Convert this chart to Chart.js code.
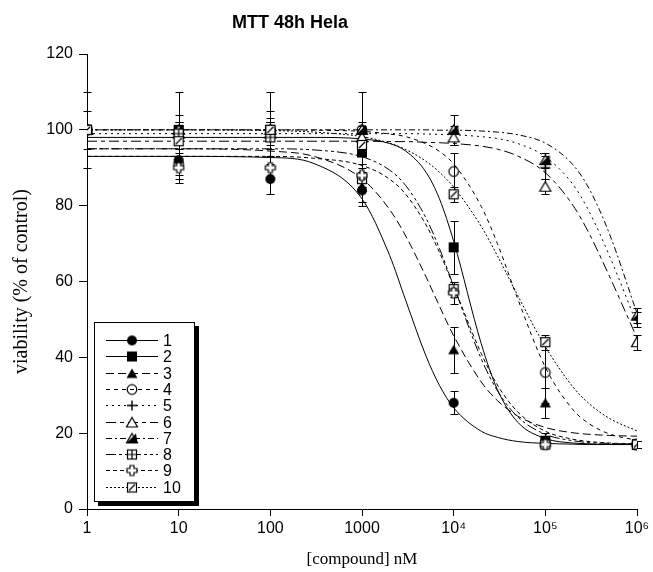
<!DOCTYPE html>
<html>
<head>
<meta charset="utf-8">
<script src="https://cdn.jsdelivr.net/npm/chart.js@4/dist/chart.umd.min.js"></script>
<style>
body{margin:0;background:#fff;}
#wrap{position:relative;width:653px;height:572px;}
#title{position:absolute;left:0;top:12px;width:580px;text-align:center;font:bold 18px "Liberation Sans",Arial,sans-serif;color:#000;line-height:20px;}
</style>
</head>
<body>
<div id="wrap">
<canvas id="myChart" width="653" height="572"></canvas>
<div id="title">MTT 48h Hela</div>
</div>
<script>
'use strict';
// doses of the measured points and tick labels
let doses=[1,10,100,1000,1e4,1e5,1e6];
let xTicks=[1,10,100,1000,1e4,1e5,1e6];
let xTickLabels=['1','10','100','1000','10⁴','10⁵','10⁶'];
let seriesNames=['1','2','3','4','5','6','7','8','9','10'];

// measured viability (% of control)
let v1=[100,92,87,84,28,17,17];
let v2=[100,100,100,94,69,18,17];
let v3=[100,100,100,85,42,28,17];
let v4=[100,91,100,100,89,36,17];
let v5=[100,100,100,99,99,90,50];
let v6=[100,99,99,98,98,85,44];
let v7=[100,100,100,100,100,92,51];
let v8=[100,99,98,87,58,17,17];
let v9=[100,90,90,88,57,17,17];
let v10=[100,97,100,96,83,44,17];

// error (+/-)
let e1=[0,6,4,4,3,1,1];
let e2=[10,10,10,3,7,2,1];
let e3=[5,4,5,4,6,4,1];
let e4=[0,3,3,10,5,8,1];
let e5=[0,2,2,2,2,3,2];
let e6=[0,2,2,2,2,2,2];
let e7=[0,2,2,2,4,2,2];
let e8=[0,2,2,2,2,1,1];
let e9=[0,3,3,3,3,1,1];
let e10=[0,2,2,2,2,2,1];

// fitted curves
let fitDoses=[1,10,100,300,1000,2000,3000,5000,7000,1e4,2e4,3e4,5e4,1e5,2e5,3e5,5e5,1e6];
let f1=[93,93,92.7,91.1,81.8,66.9,55,40.3,32.6,26.7,20.5,18.9,17.8,17.3,17.1,17,17,17];
let f2=[98,98,98,98,97.6,96.4,94.4,88.8,81.8,70.6,43.6,31.5,22.9,18.6,17.4,17.2,17,17];
let f3=[95,95,94.4,93,87.1,79,72,61.2,53.5,45.7,33.5,28.6,24.5,21.5,20.1,19.7,19.4,19.2];
let f4=[100,100,100,99.9,99.6,98.9,98.2,96.3,94.3,91,79.8,70,55.4,37.4,26.2,22.5,19.8,18.1];
let f5=[99,99,99,99,99,99,99,98.9,98.8,98.7,98.2,97.7,96.4,92.9,85.6,78.5,66.8,48.7];
let f6=[97,97,97,97,97,96.9,96.9,96.7,96.6,96.4,95.7,94.9,93.1,88.7,80.1,72.7,61.4,45.1];
let f7=[100,100,100,100,100,100,100,100,99.9,99.9,99.7,99.4,98.7,96.5,90.8,84.5,72.6,51.6];
let f8=[95,95,95,94.7,92.9,89.4,85.3,76.7,68.7,58.8,39.6,31.2,24.3,19.7,18,17.5,17.3,17.1];
let f9=[93,93,93,92.5,90.6,87,83,74.9,67.7,58.7,41,32.7,25.6,20.5,18.4,17.8,17.4,17.2];
let f10=[100,100,99.8,99.4,98.2,96.5,94.8,91.7,88.8,84.9,74.5,66.8,56.3,42.8,32.2,27.8,23.9,20.6];

let values=[v1,v2,v3,v4,v5,v6,v7,v8,v9,v10];
let errors=[e1,e2,e3,e4,e5,e6,e7,e8,e9,e10];
let fits=[f1,f2,f3,f4,f5,f6,f7,f8,f9,f10];

let dashes=[[],[],[8,4],[4,4],[2,4],[10,4,4,4],[6,3,2,3],[10,3,3,3,3,3],[4,3],[2,2]];
let markerKinds=['circle','square','triangle','ocircle','plus','otriangle','halftri','sqcross','fatplus','sqslash'];

function makeMarker(kind){
  let c=document.createElement('canvas');
  c.width=14;c.height=14;
  let g=c.getContext('2d');
  g.translate(7,7);
  g.strokeStyle='#000';g.fillStyle='#000';g.lineWidth=1.2;
  if(kind==='circle'){
    g.beginPath();g.arc(0,0,5,0,Math.PI*2);g.fill();
  }else if(kind==='square'){
    g.fillRect(-5,-5,10,10);
  }else if(kind==='triangle'){
    g.beginPath();g.moveTo(0,-5);g.lineTo(5.5,4.5);g.lineTo(-5.5,4.5);g.closePath();g.fill();
  }else if(kind==='ocircle'){
    g.beginPath();g.arc(0,0,4.8,0,Math.PI*2);g.stroke();
  }else if(kind==='plus'){
    g.lineWidth=1.4;
    g.beginPath();g.moveTo(-5,0);g.lineTo(5,0);g.moveTo(0,-5);g.lineTo(0,5);g.stroke();
  }else if(kind==='otriangle'){
    g.beginPath();g.moveTo(0,-5);g.lineTo(5.5,4.5);g.lineTo(-5.5,4.5);g.closePath();
    g.fillStyle='#fff';g.fill();g.stroke();
  }else if(kind==='halftri'){
    g.beginPath();g.moveTo(0,-5);g.lineTo(5.5,4.5);g.lineTo(-5.5,4.5);g.closePath();
    g.fillStyle='#fff';g.fill();g.stroke();
    g.fillStyle='#000';
    g.beginPath();g.moveTo(4,-5);g.lineTo(5.5,4.5);g.lineTo(-5.5,4.5);g.closePath();g.fill();
  }else if(kind==='sqcross'){
    g.fillStyle='#fff';g.fillRect(-4.5,-4.5,9,9);
    g.strokeRect(-4.5,-4.5,9,9);
    g.beginPath();g.moveTo(-4.5,0);g.lineTo(4.5,0);g.moveTo(0,-4.5);g.lineTo(0,4.5);g.stroke();
  }else if(kind==='fatplus'){
    g.beginPath();
    g.moveTo(-2,-5);g.lineTo(2,-5);g.lineTo(2,-2);g.lineTo(5,-2);g.lineTo(5,2);g.lineTo(2,2);
    g.lineTo(2,5);g.lineTo(-2,5);g.lineTo(-2,2);g.lineTo(-5,2);g.lineTo(-5,-2);g.lineTo(-2,-2);g.closePath();
    g.fillStyle='#fff';g.fill();g.stroke();
  }else if(kind==='sqslash'){
    g.fillStyle='#fff';g.fillRect(-4.5,-4.5,9,9);
    g.strokeRect(-4.5,-4.5,9,9);
    g.beginPath();g.moveTo(-3,3);g.lineTo(3,-3);g.stroke();
  }
  return c;
}
let markers=markerKinds.map(makeMarker);

let datasets=[];
for(let i=0;i<seriesNames.length;i++){
  datasets.push({
    label:'fit '+seriesNames[i],
    data:fitDoses.map((x,j)=>({x:x,y:fits[i][j]})),
    showLine:true,pointRadius:0,borderColor:'#000',borderWidth:1,
    borderDash:dashes[i],cubicInterpolationMode:'monotone',fill:false,order:3
  });
  // later series drawn on top (higher order = drawn first)
  datasets.push({
    label:seriesNames[i],
    data:doses.map((x,j)=>({x:x,y:values[i][j]})),
    showLine:false,pointStyle:markers[i],pointRadius:5,order:2-i*0.1,
    errors:errors[i]
  });
}

let errorBars={
  id:'errorBars',
  beforeDatasetsDraw(chart){
    let ctx=chart.ctx,xs=chart.scales.x,ys=chart.scales.y;
    ctx.save();
    ctx.strokeStyle='#000';ctx.lineWidth=1;
    chart.data.datasets.forEach(ds=>{
      if(!ds.errors)return;
      ds.data.forEach((p,i)=>{
        let e=ds.errors[i];
        if(!e)return;
        let px=Math.round(xs.getPixelForValue(p.x))+0.5;
        let t=Math.round(ys.getPixelForValue(p.y+e))+0.5;
        let b=Math.round(ys.getPixelForValue(p.y-e))+0.5;
        ctx.beginPath();
        ctx.moveTo(px,t);ctx.lineTo(px,b);
        ctx.moveTo(px-4,t);ctx.lineTo(px+4,t);
        ctx.moveTo(px-4,b);ctx.lineTo(px+4,b);
        ctx.stroke();
      });
    });
    ctx.restore();
  }
};

let boxLegend={
  id:'boxLegend',
  afterDraw(chart){
    let ctx=chart.ctx;
    let bx=94,by=322,bw=100,bh=179;
    ctx.save();
    ctx.fillStyle='#000';ctx.fillRect(bx+4,by+4,bw+1,bh+1);
    ctx.fillStyle='#fff';ctx.fillRect(bx,by,bw,bh);
    ctx.strokeStyle='#000';ctx.lineWidth=1;ctx.strokeRect(bx+0.5,by+0.5,bw,bh);
    ctx.font='16px "Liberation Sans", Arial, sans-serif';
    ctx.textBaseline='middle';ctx.textAlign='left';
    for(let i=0;i<seriesNames.length;i++){
      let y=Math.round(340+i*16.3)+0.5;
      ctx.setLineDash(dashes[i]);
      ctx.beginPath();ctx.moveTo(106,y);ctx.lineTo(158,y);ctx.stroke();
      ctx.setLineDash([]);
      let m=markers[i];
      ctx.drawImage(m,132-m.width/2,y-m.height/2);
      ctx.fillStyle='#000';
      ctx.fillText(seriesNames[i],163,y+1);
    }
    ctx.restore();
  }
};

let tickFont={family:'"Liberation Sans", Arial, sans-serif',size:16};

new Chart(document.getElementById('myChart'),{
  type:'scatter',
  data:{datasets:datasets},
  options:{
    responsive:false,animation:false,devicePixelRatio:1,
    layout:{padding:{left:0,top:54,right:16,bottom:0}},
    plugins:{legend:{display:false},tooltip:{enabled:false},title:{display:false}},
    scales:{
      x:{
        type:'logarithmic',min:1,max:1e6,position:'bottom',
        afterBuildTicks(s){s.ticks=xTicks.map(v=>({value:v}));},
        afterFit(s){s.height=63;},
        ticks:{
          callback(v){let k=xTicks.indexOf(v);return k>=0?xTickLabels[k]:'';},
          font:tickFont,color:'#000',padding:3,maxRotation:0,autoSkip:false
        },
        grid:{drawOnChartArea:false,tickLength:7,color:'#000'},
        border:{color:'#000',width:1},
        title:{display:true,text:'[compound] nM',color:'#000',
          font:{family:'"Liberation Serif", "Times New Roman", serif',size:17},
          padding:{top:2,bottom:2}}
      },
      y:{
        min:0,max:120,
        afterFit(s){s.width=87;},
        ticks:{stepSize:20,font:tickFont,color:'#000',padding:6},
        grid:{drawOnChartArea:false,tickLength:8,color:'#000'},
        border:{color:'#000',width:1},
        title:{display:true,text:'viability (% of control)',color:'#000',
          font:{family:'"Liberation Serif", "Times New Roman", serif',size:20},
          padding:{top:10,bottom:10}}
      }
    }
  },
  plugins:[errorBars,boxLegend]
});
</script>
</body>
</html>
